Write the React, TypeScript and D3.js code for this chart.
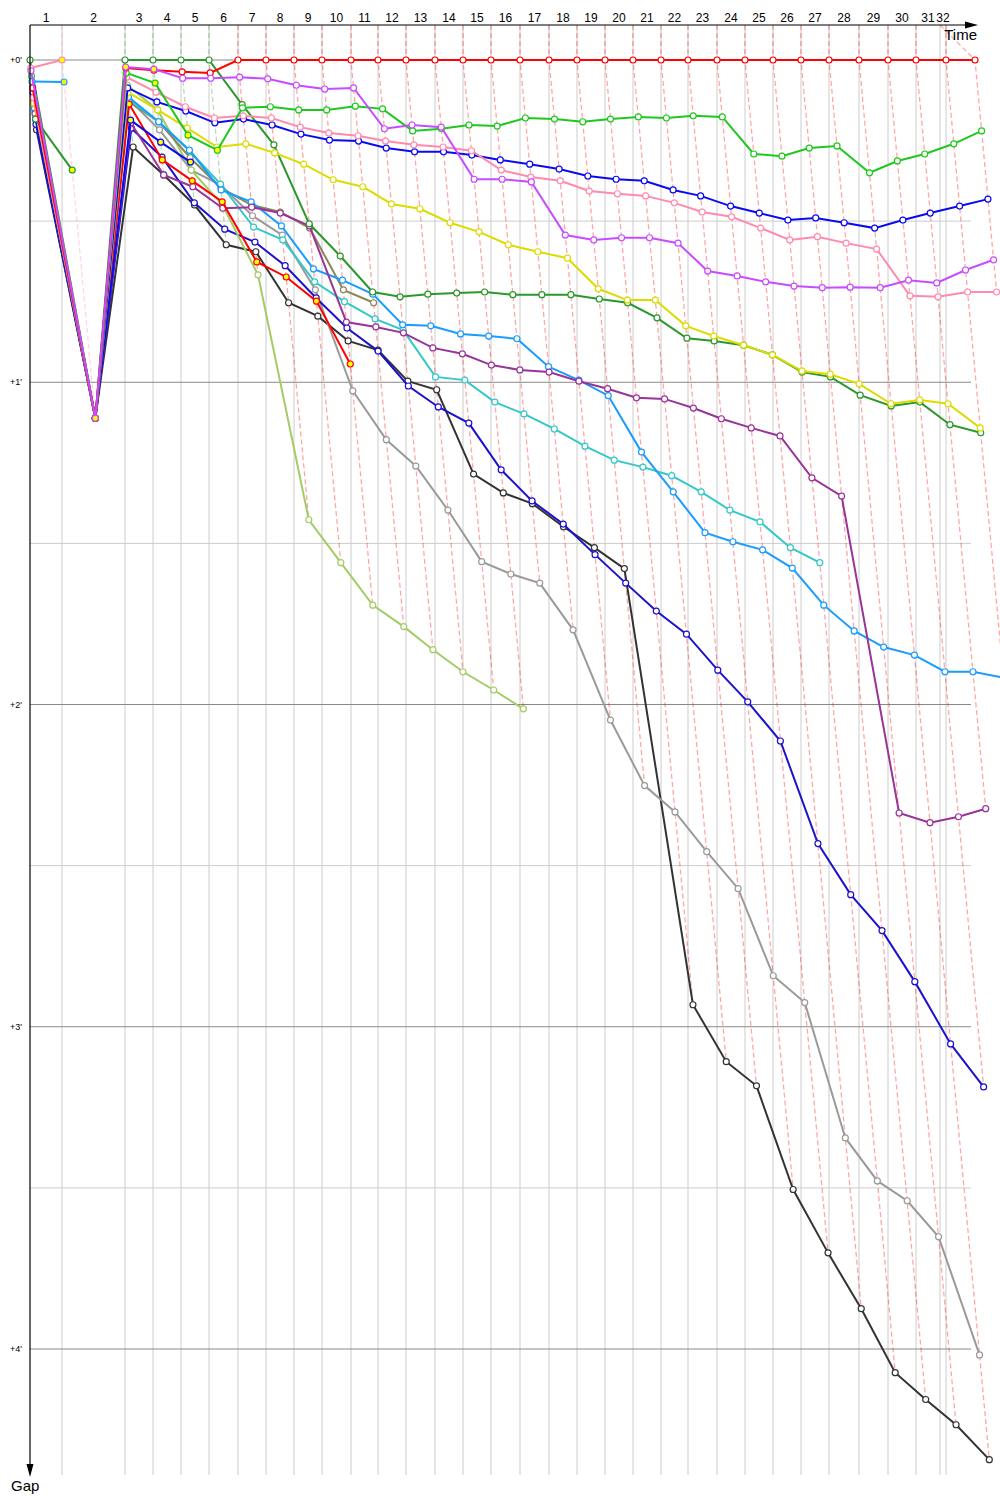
import React, { useEffect, useRef } from 'react';
import * as d3 from 'd3';

// leader crossing time at the end of each lap, in seconds (index 0 = start)
const lapTimes = [0, 64, 190, 246, 302, 358, 416, 472, 528, 584, 642, 696, 752, 810, 866, 922, 980, 1038, 1094, 1150, 1206, 1262, 1316, 1374, 1430, 1486, 1542, 1598, 1658, 1716, 1772, 1832, 1890];
// lap marks on the time axis (laps 1..32)
const lapMarks = [64, 190, 246, 302, 358, 416, 472, 528, 584, 642, 696, 752, 810, 866, 922, 980, 1038, 1094, 1150, 1206, 1262, 1316, 1374, 1430, 1486, 1542, 1598, 1658, 1716, 1772, 1832, 1820];
const lapLabels = ['1', '2', '3', '4', '5', '6', '7', '8', '9', '10', '11', '12', '13', '14', '15', '16', '17', '18', '19', '20', '21', '22', '23', '24', '25', '26', '27', '28', '29', '30', '31', '32'];
const gapTicks = [0, 1, 2, 3, 4]; // minutes
const gapLabels = ["+0'", "+1'", "+2'", "+3'", "+4'"];

// gap to the leader (s), one value per lap from the start
const redGaps = [5.2, 66.7, 1.5, 1.9, 2.2, 2.4, 0, 0, 0, 0, 0, 0, 0, 0, 0, 0, 0, 0, 0, 0, 0, 0, 0, 0, 0, 0, 0, 0, 0, 0, 0, 0, 0];
const forestGaps = [0, 66.7, 0, 0, 0, 0, 8.3, 15.8, 30.5, 36.5, 43.2, 44.1, 43.6, 43.4, 43.2, 43.7, 43.7, 43.7, 44.5, 45.2, 48.0, 51.8, 52.3, 53.1, 54.9, 58.1, 59.0, 62.4, 64.4, 63.7, 67.9, 69.4];
const limeGaps = [3.0, 66.7, 2.4, 4.3, 14.0, 16.8, 8.9, 8.7, 9.3, 9.3, 8.6, 9.1, 13.2, 12.8, 12.1, 12.3, 10.8, 11.0, 11.5, 11.0, 10.6, 10.8, 10.4, 10.6, 17.5, 17.9, 16.4, 16.0, 21.0, 18.8, 17.5, 15.6, 13.2];
const violetGaps = [2.0, 66.7, 1.3, 1.7, 3.4, 3.4, 3.2, 3.5, 4.7, 5.4, 5.2, 12.8, 12.1, 12.5, 22.2, 22.2, 22.7, 32.6, 33.5, 33.1, 33.1, 34.1, 39.3, 40.2, 41.3, 42.1, 42.4, 42.3, 42.4, 41.0, 41.5, 39.1, 37.2];
const pinkGaps = [7.0, 66.7, 3.2, 6.0, 8.7, 10.8, 10.4, 10.8, 12.5, 13.6, 14.1, 15.1, 15.8, 16.2, 16.9, 20.5, 21.8, 22.5, 24.4, 24.9, 25.3, 26.6, 28.3, 29.2, 31.3, 33.5, 32.9, 34.1, 35.2, 43.9, 44.1, 43.2, 43.2];
const blueGaps = [6.0, 66.7, 5.2, 7.8, 9.5, 11.7, 11.0, 12.1, 13.8, 14.9, 15.1, 16.4, 17.1, 17.1, 17.7, 18.6, 19.4, 20.3, 21.6, 22.2, 22.5, 24.2, 25.3, 27.2, 28.5, 29.8, 29.4, 30.3, 31.3, 29.8, 28.5, 27.2, 25.9];
const yellowGaps = [8.0, 66.7, 6.0, 9.3, 12.7, 16.2, 15.6, 17.3, 19.4, 22.3, 23.6, 26.8, 27.7, 30.3, 32.0, 34.4, 35.7, 36.9, 42.6, 44.7, 44.7, 49.5, 51.4, 53.1, 54.9, 57.9, 58.5, 60.3, 64.0, 63.3, 64.0, 68.5];
const purpleGaps = [10.0, 66.7, 11.7, 21.4, 23.6, 27.6, 27.4, 28.5, 30.9, 48.8, 49.7, 50.8, 53.6, 54.7, 56.8, 57.7, 58.1, 59.8, 61.2, 62.9, 63.1, 64.8, 66.8, 68.5, 70.0, 77.8, 81.2, 140.2, 142.0, 140.9, 139.4];
const skyGaps = [9.0, 66.7, 6.9, 11.5, 16.8, 24.2, 26.4, 30.9, 38.9, 41.0, 43.6, 49.3, 49.5, 51.0, 51.4, 51.9, 57.1, 59.6, 62.5, 73.0, 80.4, 88.0, 89.7, 91.2, 94.6, 101.5, 106.3, 109.3, 110.8, 113.9, 113.9, 115.0];
const turquoiseGaps = [9.5, 66.7, 7.4, 11.5, 16.9, 23.1, 31.1, 33.5, 41.3, 45.0, 48.2, 50.3, 59.0, 59.6, 63.7, 65.9, 68.7, 71.9, 74.5, 75.8, 77.4, 80.4, 83.8, 86.0, 90.8, 93.6];
const navyGaps = [12.0, 66.7, 12.7, 18.1, 26.6, 31.5, 33.9, 38.3, 44.3, 49.9, 54.2, 60.7, 64.6, 67.6, 76.3, 82.1, 86.4, 92.1, 97.4, 102.6, 106.9, 113.6, 119.5, 126.8, 145.9, 155.4, 162.1, 171.6, 183.2, 191.2];
const greyGaps = [8.5, 66.7, 7.3, 13.0, 20.5, 23.3, 29.0, 32.6, 42.8, 61.6, 70.7, 75.6, 83.8, 93.4, 95.7, 97.4, 106.1, 122.9, 135.1, 140.0, 147.4, 154.3, 170.5, 175.5, 200.7, 208.7, 212.4, 219.1, 241.1];
const blackGaps = [13.0, 66.7, 16.2, 21.4, 27.0, 34.4, 35.7, 45.2, 47.7, 52.3, 54.0, 59.8, 61.4, 77.1, 80.6, 82.6, 86.9, 90.8, 94.7, 175.9, 186.5, 191.0, 210.3, 222.1, 232.5, 244.4, 249.4, 254.1, 260.6];
const red2Gaps = [7.8, 66.7, 8.2, 18.6, 22.5, 26.4, 37.6, 40.4, 44.9, 56.6];
const appleGaps = [6.5, 66.7, 4.7, 9.3, 20.5, 27.0, 40.0, 85.6, 93.6, 101.5, 105.5, 109.8, 113.9, 117.3, 120.8];
const oliveGaps = [9.0, 66.7, 7.8, 11.5, 18.2, 23.8, 27.0, 28.3, 31.3, 42.8, 45.2];
const blue2Gaps = [11.0, 66.7, 11.2, 15.3, 19.0];
const pink1Gaps = [1.5, 0];
const sky1Gaps = [4.0, 4.1];
const green1Gaps = [11.0, 20.5];

// laps drawn with a yellow marker
const violetMarked = [1, 2, 3];
const limeMarked = [1, 3, 4, 5];
const red2Marked = [1, 2, 3, 4, 5, 6, 7, 8, 9];
const blue2Marked = [1, 2, 3, 4];
const firstLapMarked = [1];

interface Series { name: string; color: string; gaps: number[]; marked: number[] }
interface Pt { lap: number; gap: number; t: number; s: Series }

const series: Series[] = [
  { name: 'black', color: '#333333', gaps: blackGaps, marked: [] },
  { name: 'grey', color: '#9a9a9a', gaps: greyGaps, marked: [] },
  { name: 'navy', color: '#1c12cc', gaps: navyGaps, marked: [] },
  { name: 'apple', color: '#a3cc66', gaps: appleGaps, marked: [] },
  { name: 'olive', color: '#8a8658', gaps: oliveGaps, marked: [] },
  { name: 'turquoise', color: '#33c8c8', gaps: turquoiseGaps, marked: [] },
  { name: 'sky', color: '#1a9cff', gaps: skyGaps, marked: [] },
  { name: 'purple', color: '#993399', gaps: purpleGaps, marked: [] },
  { name: 'red2', color: '#ff0000', gaps: red2Gaps, marked: red2Marked },
  { name: 'blue2', color: '#0a0af0', gaps: blue2Gaps, marked: blue2Marked },
  { name: 'forest', color: '#2c972c', gaps: forestGaps, marked: [] },
  { name: 'yellow', color: '#dcdc00', gaps: yellowGaps, marked: [] },
  { name: 'blue', color: '#0a0af0', gaps: blueGaps, marked: [] },
  { name: 'pink', color: '#ff8aae', gaps: pinkGaps, marked: [] },
  { name: 'lime', color: '#1ec81e', gaps: limeGaps, marked: limeMarked },
  { name: 'green1', color: '#2c972c', gaps: green1Gaps, marked: firstLapMarked },
  { name: 'sky1', color: '#1a9cff', gaps: sky1Gaps, marked: firstLapMarked },
  { name: 'pink1', color: '#ff8aae', gaps: pink1Gaps, marked: firstLapMarked },
  { name: 'red', color: '#ff0000', gaps: redGaps, marked: [] },
  { name: 'violet', color: '#c84bff', gaps: violetGaps, marked: violetMarked },
];

const App: React.FC = () => {
  const ref = useRef<SVGSVGElement | null>(null);

  useEffect(() => {
    const svg = d3.select(ref.current);
    svg.selectAll('*').remove();

    const top = 25, bottom = 1475, left = 30, gridRight = 971;
    const x = d3.scaleLinear().domain([0, 1940]).range([30, 1000]);
    const y = d3.scaleLinear().domain([0, 240]).range([60, 1349]);

    const pts: Pt[][] = series.map(s => s.gaps.map((g, lap) => ({ lap, gap: g, t: lapTimes[lap] + g, s })));

    // grid
    const grid = svg.append('g');
    grid.selectAll('line.v').data(lapMarks).enter().append('line')
      .attr('x1', d => x(d)).attr('x2', d => x(d))
      .attr('y1', top).attr('y2', bottom)
      .attr('stroke', '#cccccc').attr('stroke-width', 1);
    grid.selectAll('line.minor').data(gapTicks.slice(0, 4).map(m => m + 0.5)).enter().append('line')
      .attr('x1', left).attr('x2', gridRight)
      .attr('y1', d => y(d * 60)).attr('y2', d => y(d * 60))
      .attr('stroke', '#cccccc').attr('stroke-width', 1);
    grid.selectAll('line.major').data(gapTicks).enter().append('line')
      .attr('x1', left).attr('x2', gridRight)
      .attr('y1', d => y(d * 60)).attr('y2', d => y(d * 60))
      .attr('stroke', '#888888').attr('stroke-width', 1);

    // lap lines (dashed), coloured after the lap leader
    const lapG = svg.append('g');
    lapMarks.forEach((m, i) => {
      const lap = i + 1;
      const onLap = pts.map(p => p[lap]).filter(Boolean).sort((a, b) => a.gap - b.gap);
      if (!onLap.length) return;
      const coords: [number, number][] = [[x(m), top], ...onLap.map(p => [x(p.t), y(p.gap)] as [number, number])];
      lapG.append('path')
        .attr('d', d3.line()(coords))
        .attr('fill', 'none')
        .attr('stroke', onLap[0].s.color)
        .attr('stroke-opacity', 0.35)
        .attr('stroke-width', 1.3)
        .attr('stroke-dasharray', '5,3');
    });

    // drivers
    const line = d3.line<Pt>().x(p => x(p.t)).y(p => y(p.gap));
    pts.forEach(p => {
      const s = p[0].s;
      const g = svg.append('g');
      g.append('path').datum(p)
        .attr('d', line)
        .attr('fill', 'none')
        .attr('stroke', s.color)
        .attr('stroke-width', 2);
      g.selectAll('circle').data(p).enter().append('circle')
        .attr('cx', d => x(d.t)).attr('cy', d => y(d.gap))
        .attr('r', 3)
        .attr('fill', d => (s.marked.includes(d.lap) ? '#ffff00' : '#ffffff'))
        .attr('stroke', s.color)
        .attr('stroke-width', 1.2);
    });

    // axes
    const axes = svg.append('g');
    axes.append('line').attr('x1', left).attr('x2', 968).attr('y1', top).attr('y2', top)
      .attr('stroke', '#000').attr('stroke-width', 1.2);
    axes.append('path').attr('d', 'M965,21.5L978,25L965,28.5Z').attr('fill', '#000');
    axes.append('line').attr('x1', left).attr('x2', left).attr('y1', top).attr('y2', 1466)
      .attr('stroke', '#000').attr('stroke-width', 1.2);
    axes.append('path').attr('d', `M26.5,1464L${left},1477L33.5,1464Z`).attr('fill', '#000');

    const sorted = [0, ...lapMarks].sort((a, b) => a - b);
    axes.selectAll('text.lap').data(lapLabels).enter().append('text')
      .attr('x', (_, i) => x((sorted[i] + sorted[i + 1]) / 2))
      .attr('y', 22)
      .attr('text-anchor', 'middle')
      .attr('font-size', 12)
      .attr('fill', '#000')
      .text(d => d);
    axes.selectAll('text.gap').data(gapTicks).enter().append('text')
      .attr('x', 22).attr('y', d => y(d * 60) + 3)
      .attr('text-anchor', 'end')
      .attr('font-size', 9)
      .attr('fill', '#000')
      .text((_, i) => gapLabels[i]);
    axes.append('text').attr('x', 977).attr('y', 40).attr('text-anchor', 'end')
      .attr('font-size', 15).attr('fill', '#000').text('Time');
    axes.append('text').attr('x', 11).attr('y', 1491)
      .attr('font-size', 15).attr('fill', '#000').text('Gap');
  }, []);

  return (
    <svg ref={ref} width={1000} height={1500}
      style={{ position: 'absolute', left: 0, top: 0, background: '#fff', fontFamily: '"Liberation Sans", Arial, sans-serif' }} />
  );
};

export default App;
